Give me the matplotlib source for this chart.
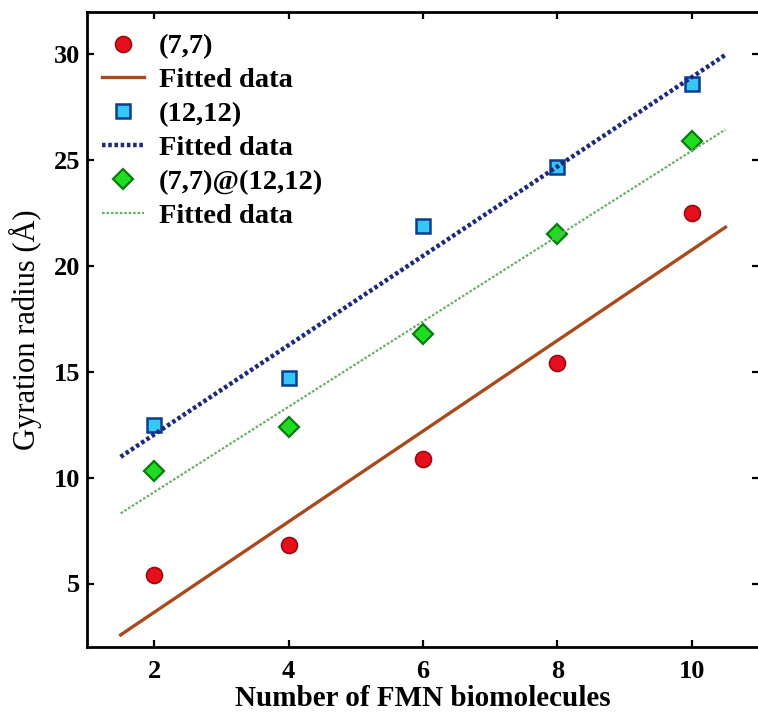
import matplotlib.pyplot as plt
import numpy as np

# number of FMN biomolecules
n_fmn = [2, 4, 6, 8, 10]
# gyration radius (A) per nanotube
rg_77 = [5.4, 6.8, 10.9, 15.4, 22.5]
rg_1212 = [12.5, 14.7, 21.9, 24.7, 28.6]
rg_77_1212 = [10.3, 12.4, 16.8, 21.5, 25.9]
fit_range = [1.5, 10.5]

plt.rcParams["font.family"] = ["Liberation Serif", "DejaVu Serif"]
plt.rcParams["font.weight"] = "bold"

fig = plt.figure(figsize=(7.58, 7.16), dpi=100)
ax = fig.add_axes([87 / 758, 1 - 647 / 716, 672 / 758, 635 / 716])


def linfit(x, y):
    k, b = np.polyfit(x, y, 1)
    xf = np.array(fit_range)
    return xf, k * xf + b


ax.plot(n_fmn, rg_77, "o", ms=11.5, mfc="#e5101c", mec="#9a0a10", mew=1.2,
        ls="none", label="(7,7)")
xf, yf = linfit(n_fmn, rg_77)
ax.plot(xf, yf, color="#a84a1c", lw=2.4, label="Fitted data")

ax.plot(n_fmn, rg_1212, "s", ms=9.5, mfc="#35c8f5", mec="#0d3d8e", mew=1.8,
        ls="none", label="(12,12)")
xf, yf = linfit(n_fmn, rg_1212)
ax.plot(xf, yf, color="#1c2a7e", lw=3.2, ls=(0, (0.8, 0.6)), label="Fitted data")

ax.plot(n_fmn, rg_77_1212, "D", ms=10, mfc="#20dc20", mec="#0b7a12", mew=1.6,
        ls="none", label="(7,7)@(12,12)")
xf, yf = linfit(n_fmn, rg_77_1212)
ax.plot(xf, yf, color="#6fae6f", lw=1.6, ls=(0, (1.2, 0.8)), label="Fitted data")

ax.set_xlim(1, 11)
ax.set_ylim(2, 32)
ax.set_xticks([2, 4, 6, 8, 10])
ax.set_yticks([5, 10, 15, 20, 25, 30])
ax.tick_params(direction="in", length=5, width=1.6, labelsize=19,
               top=True, right=True)
ax.tick_params(axis="x", pad=9)
ax.tick_params(axis="y", pad=5)
for s in ax.spines.values():
    s.set_linewidth(2)

ax.set_xlabel("Number of FMN biomolecules", fontsize=21, fontweight="bold",
              labelpad=2)
ax.set_ylabel("Gyration radius (Å)", fontsize=22, fontweight="normal",
              labelpad=8)

ax.legend(loc="upper left", bbox_to_anchor=(0.022, 0.966), frameon=False,
          fontsize=20.5, handlelength=1.5, handletextpad=0.5, labelspacing=0.28,
          borderaxespad=0, borderpad=0, numpoints=1)

fig.savefig("out.png", dpi=100)
